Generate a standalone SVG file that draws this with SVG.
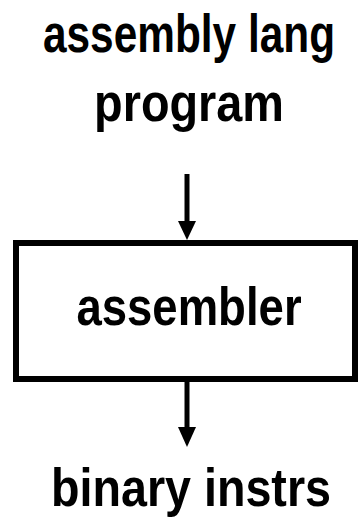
<svg xmlns="http://www.w3.org/2000/svg" width="364" height="520" viewBox="0 0 364 520">
  <style>
    .lbl { font-family: "Liberation Sans", Arial, sans-serif; font-weight: bold; font-size: 54px; fill: #000; text-anchor: middle; }
    .box { fill: #fff; stroke: #000; stroke-width: 6; }
    .wire { stroke: #000; stroke-width: 5; fill: none; }
    .head { fill: #000; }
  </style>
  <rect width="364" height="520" fill="#fff"/>

  <!-- condensed bold labels: horizontal squeeze per line -->
  <g id="source">
    <text class="lbl" transform="translate(189,52) scale(0.785,1)">assembly lang</text>
    <text class="lbl" transform="translate(189,121) scale(0.867,1)">program</text>
  </g>

  <g id="assembler">
    <rect class="box" x="16" y="243" width="339" height="136"/>
    <text class="lbl" transform="translate(189,325) scale(0.843,1)">assembler</text>
  </g>

  <g id="output">
    <text class="lbl" transform="translate(191,506) scale(0.864,1)">binary instrs</text>
  </g>

  <g id="connectors">
    <line class="wire" x1="187" y1="174" x2="187" y2="224"/>
    <polygon class="head" points="178,221 196,221 187,240"/>
    <line class="wire" x1="187" y1="382" x2="187" y2="430"/>
    <polygon class="head" points="178,427 196,427 187,447"/>
  </g>
</svg>
